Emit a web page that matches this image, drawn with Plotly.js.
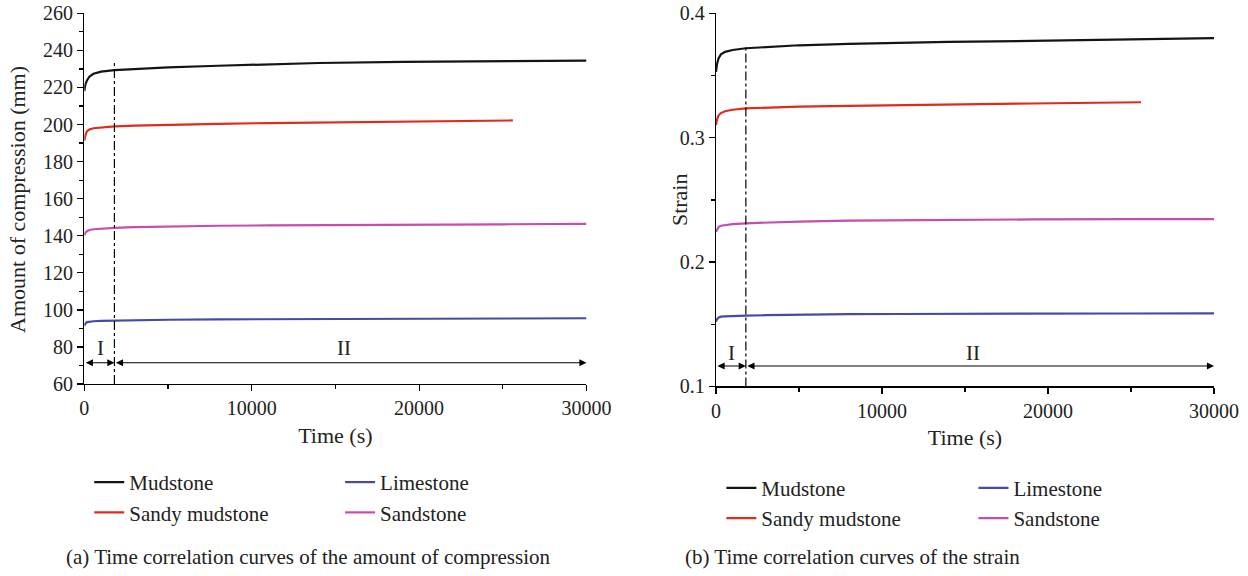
<!DOCTYPE html>
<html>
<head>
<meta charset="utf-8">
<script src="https://cdn.plot.ly/plotly-3.0.1.min.js"></script>
<style>html,body{margin:0;padding:0;background:#fff;}#chart{width:1248px;height:576px;}</style>
</head>
<body>
<div id="chart"></div>
<script>
// ---- data ----
const timeFull = [0, 60, 160, 300, 550, 1000, 1800, 3000, 5000, 8000, 11000, 14000, 19000, 25000, 30000];
const timeSandy = [0, 60, 160, 300, 550, 1000, 1800, 3000, 5000, 8000, 11000, 14000, 19000, 25600];

// (a) amount of compression (mm)
const compMudstone  = [218, 221.5, 223.8, 225.8, 227.4, 228.5, 229.3, 230.0, 230.8, 231.7, 232.5, 233.2, 233.8, 234.2, 234.5];
const compSandy     = [191.3, 194.0, 196.4, 197.3, 198.0, 198.5, 199.0, 199.4, 199.9, 200.4, 200.8, 201.1, 201.6, 202.2];
const compSandstone = [140.3, 141.6, 142.5, 143.1, 143.5, 143.9, 144.3, 144.7, 145.1, 145.4, 145.6, 145.8, 146.0, 146.2, 146.4];
const compLimestone = [91.5, 92.6, 93.4, 93.7, 93.9, 94.1, 94.3, 94.5, 94.7, 94.9, 95.0, 95.1, 95.3, 95.4, 95.5];

// (b) strain
const strainMudstone  = [0.353, 0.359, 0.364, 0.367, 0.369, 0.3705, 0.3719, 0.373, 0.3743, 0.3755, 0.3763, 0.377, 0.3778, 0.3788, 0.380];
const strainSandy     = [0.3102, 0.3145, 0.318, 0.3198, 0.3213, 0.3225, 0.3236, 0.3243, 0.3250, 0.3256, 0.3262, 0.3267, 0.3275, 0.3285];
const strainSandstone = [0.2244, 0.2265, 0.2283, 0.2292, 0.2298, 0.2305, 0.2312, 0.2319, 0.2326, 0.2334, 0.2337, 0.2340, 0.2343, 0.2345, 0.2346];
const strainLimestone = [0.1521, 0.154, 0.1555, 0.1561, 0.1564, 0.1567, 0.1569, 0.1573, 0.1577, 0.1582, 0.1583, 0.1585, 0.1586, 0.1587, 0.1588];

// stage boundary and annotations
const stageBoundary = 1800;
const timeEnd = 30000;
const compStageTop = 234.3, compArrowY = 71.5, compLabelY = 79.5;
const strainStageTop = 0.3732, strainArrowY = 0.1165, strainLabelY = 0.1272;
const stageLabels = ['I', 'II'];
const stageLabelX = [940, 15500];

const names = ['Mudstone', 'Sandy mudstone', 'Limestone', 'Sandstone'];
const colors = {'Mudstone':'#141414', 'Sandy mudstone':'#e02a1c', 'Limestone':'#4649a6', 'Sandstone':'#c64cae'};

const FONT = 'Liberation Serif, Times New Roman, serif';
const TXT = '#222';

function tr(name, x, y, xa, ya, legend){
  return {x:x, y:y, name:name, type:'scatter', mode:'lines', xaxis:xa, yaxis:ya, legend:legend,
          line:{color:colors[name], width:2.2}, hoverinfo:'skip'};
}

const data = [
  tr('Mudstone', timeFull, compMudstone, 'x', 'y', 'legend'),
  tr('Sandy mudstone', timeSandy, compSandy, 'x', 'y', 'legend'),
  tr('Limestone', timeFull, compLimestone, 'x', 'y', 'legend2'),
  tr('Sandstone', timeFull, compSandstone, 'x', 'y', 'legend2'),
  tr('Mudstone', timeFull, strainMudstone, 'x2', 'y2', 'legend3'),
  tr('Sandy mudstone', timeSandy, strainSandy, 'x2', 'y2', 'legend3'),
  tr('Limestone', timeFull, strainLimestone, 'x2', 'y2', 'legend4'),
  tr('Sandstone', timeFull, strainSandstone, 'x2', 'y2', 'legend4')
];

function axisBase(){
  return {showline:true, linecolor:'#000', linewidth:1.2, ticks:'outside', ticklen:6, tickwidth:1.2,
          tickcolor:'#000', showgrid:false, zeroline:false, tickfont:{family:FONT, size:20, color:TXT},
          title:{font:{family:FONT, size:22, color:TXT}}};
}

const xa1 = Object.assign(axisBase(), {domain:[0.06755, 0.46995], range:[0, 30000], dtick:10000, tickformat:'d',
  minor:{dtick:5000, ticks:'outside', ticklen:4, tickcolor:'#000', tickwidth:1.2}, anchor:'y'});
xa1.title.text = 'Time (s)'; xa1.title.standoff = 9;
const ya1 = Object.assign(axisBase(), {domain:[0.3332, 0.9769], range:[60, 260], dtick:20,
  minor:{dtick:10, ticks:'outside', ticklen:4, tickcolor:'#000', tickwidth:1.2}, anchor:'x'});

const xa2 = Object.assign(axisBase(), {domain:[0.5737, 0.9728], range:[0, 30000], dtick:10000, tickformat:'d',
  minor:{dtick:5000, ticks:'outside', ticklen:4, tickcolor:'#000', tickwidth:1.2}, anchor:'y2'});
xa2.title.text = 'Time (s)'; xa2.title.standoff = 9;
const ya2 = Object.assign(axisBase(), {domain:[0.3290, 0.9769], range:[0.1, 0.4], dtick:0.1, tickformat:'.1f',
  minor:{dtick:0.05, ticks:'outside', ticklen:4, tickcolor:'#000', tickwidth:1.2}, anchor:'x2'});

function vline(xr, yr, bottom, top){
  return {type:'line', xref:xr, yref:yr, x0:stageBoundary, x1:stageBoundary, y0:bottom, y1:top,
          line:{color:'#000', width:1.2, dash:'dashdot'}};
}

function arrow(xr, yr, x0, x1, y){
  return {xref:xr, yref:yr, axref:xr, ayref:yr, x:x1, y:y, ax:x0, ay:y, text:'', showarrow:true,
          arrowhead:2, startarrowhead:2, arrowside:'end+start', arrowsize:1.3, startarrowsize:1.3,
          arrowwidth:1.1, arrowcolor:'#000', standoff:0, startstandoff:0};
}
function label(xr, yr, x, y, t){
  return {xref:xr, yref:yr, x:x, y:y, text:t, showarrow:false, font:{family:FONT, size:21, color:TXT}};
}
function ytitle(x, y, t){
  return {xref:'paper', yref:'paper', x:x, y:y, xanchor:'center', yanchor:'middle', textangle:-90,
          text:t, showarrow:false, font:{family:FONT, size:22, color:TXT}};
}

const annotations = [
  arrow('x', 'y', 0, stageBoundary, compArrowY),
  arrow('x', 'y', stageBoundary, timeEnd, compArrowY),
  label('x', 'y', stageLabelX[0], compLabelY, stageLabels[0]),
  label('x', 'y', stageLabelX[1], compLabelY, stageLabels[1]),
  arrow('x2', 'y2', 0, stageBoundary, strainArrowY),
  arrow('x2', 'y2', stageBoundary, timeEnd, strainArrowY),
  label('x2', 'y2', stageLabelX[0], strainLabelY, stageLabels[0]),
  label('x2', 'y2', stageLabelX[1], strainLabelY, stageLabels[1]),
  ytitle(0.0136, 0.6545, 'Amount of compression (mm)'),
  ytitle(0.5441, 0.6527, 'Strain'),
  {xref:'paper', yref:'paper', x:0.2475, y:0.033, xanchor:'center', yanchor:'middle', showarrow:false,
   text:'(a) Time correlation curves of the amount of compression', font:{family:FONT, size:21, color:TXT}},
  {xref:'paper', yref:'paper', x:0.683, y:0.033, xanchor:'center', yanchor:'middle', showarrow:false,
   text:'(b) Time correlation curves of the strain', font:{family:FONT, size:21, color:TXT}}
];

function leg(x, y){
  return {x:x, y:y, xanchor:'left', yanchor:'top', orientation:'v', bgcolor:'rgba(0,0,0,0)',
          font:{family:FONT, size:21, color:TXT}, itemwidth:30};
}

const layout = {
  width:1248, height:576, margin:{l:0, r:0, t:0, b:0}, paper_bgcolor:'#fff', plot_bgcolor:'#fff',
  xaxis:xa1, yaxis:ya1, xaxis2:xa2, yaxis2:ya2,
  showlegend:true,
  legend:leg(0.0715, 0.198), legend2:leg(0.2725, 0.198),
  legend3:leg(0.578, 0.188), legend4:leg(0.780, 0.188),
  shapes:[vline('x', 'y', 60, compStageTop), vline('x2', 'y2', 0.1, strainStageTop)],
  annotations:annotations
};

Plotly.newPlot('chart', data, layout, {staticPlot:true, displayModeBar:false});
</script>
</body>
</html>
